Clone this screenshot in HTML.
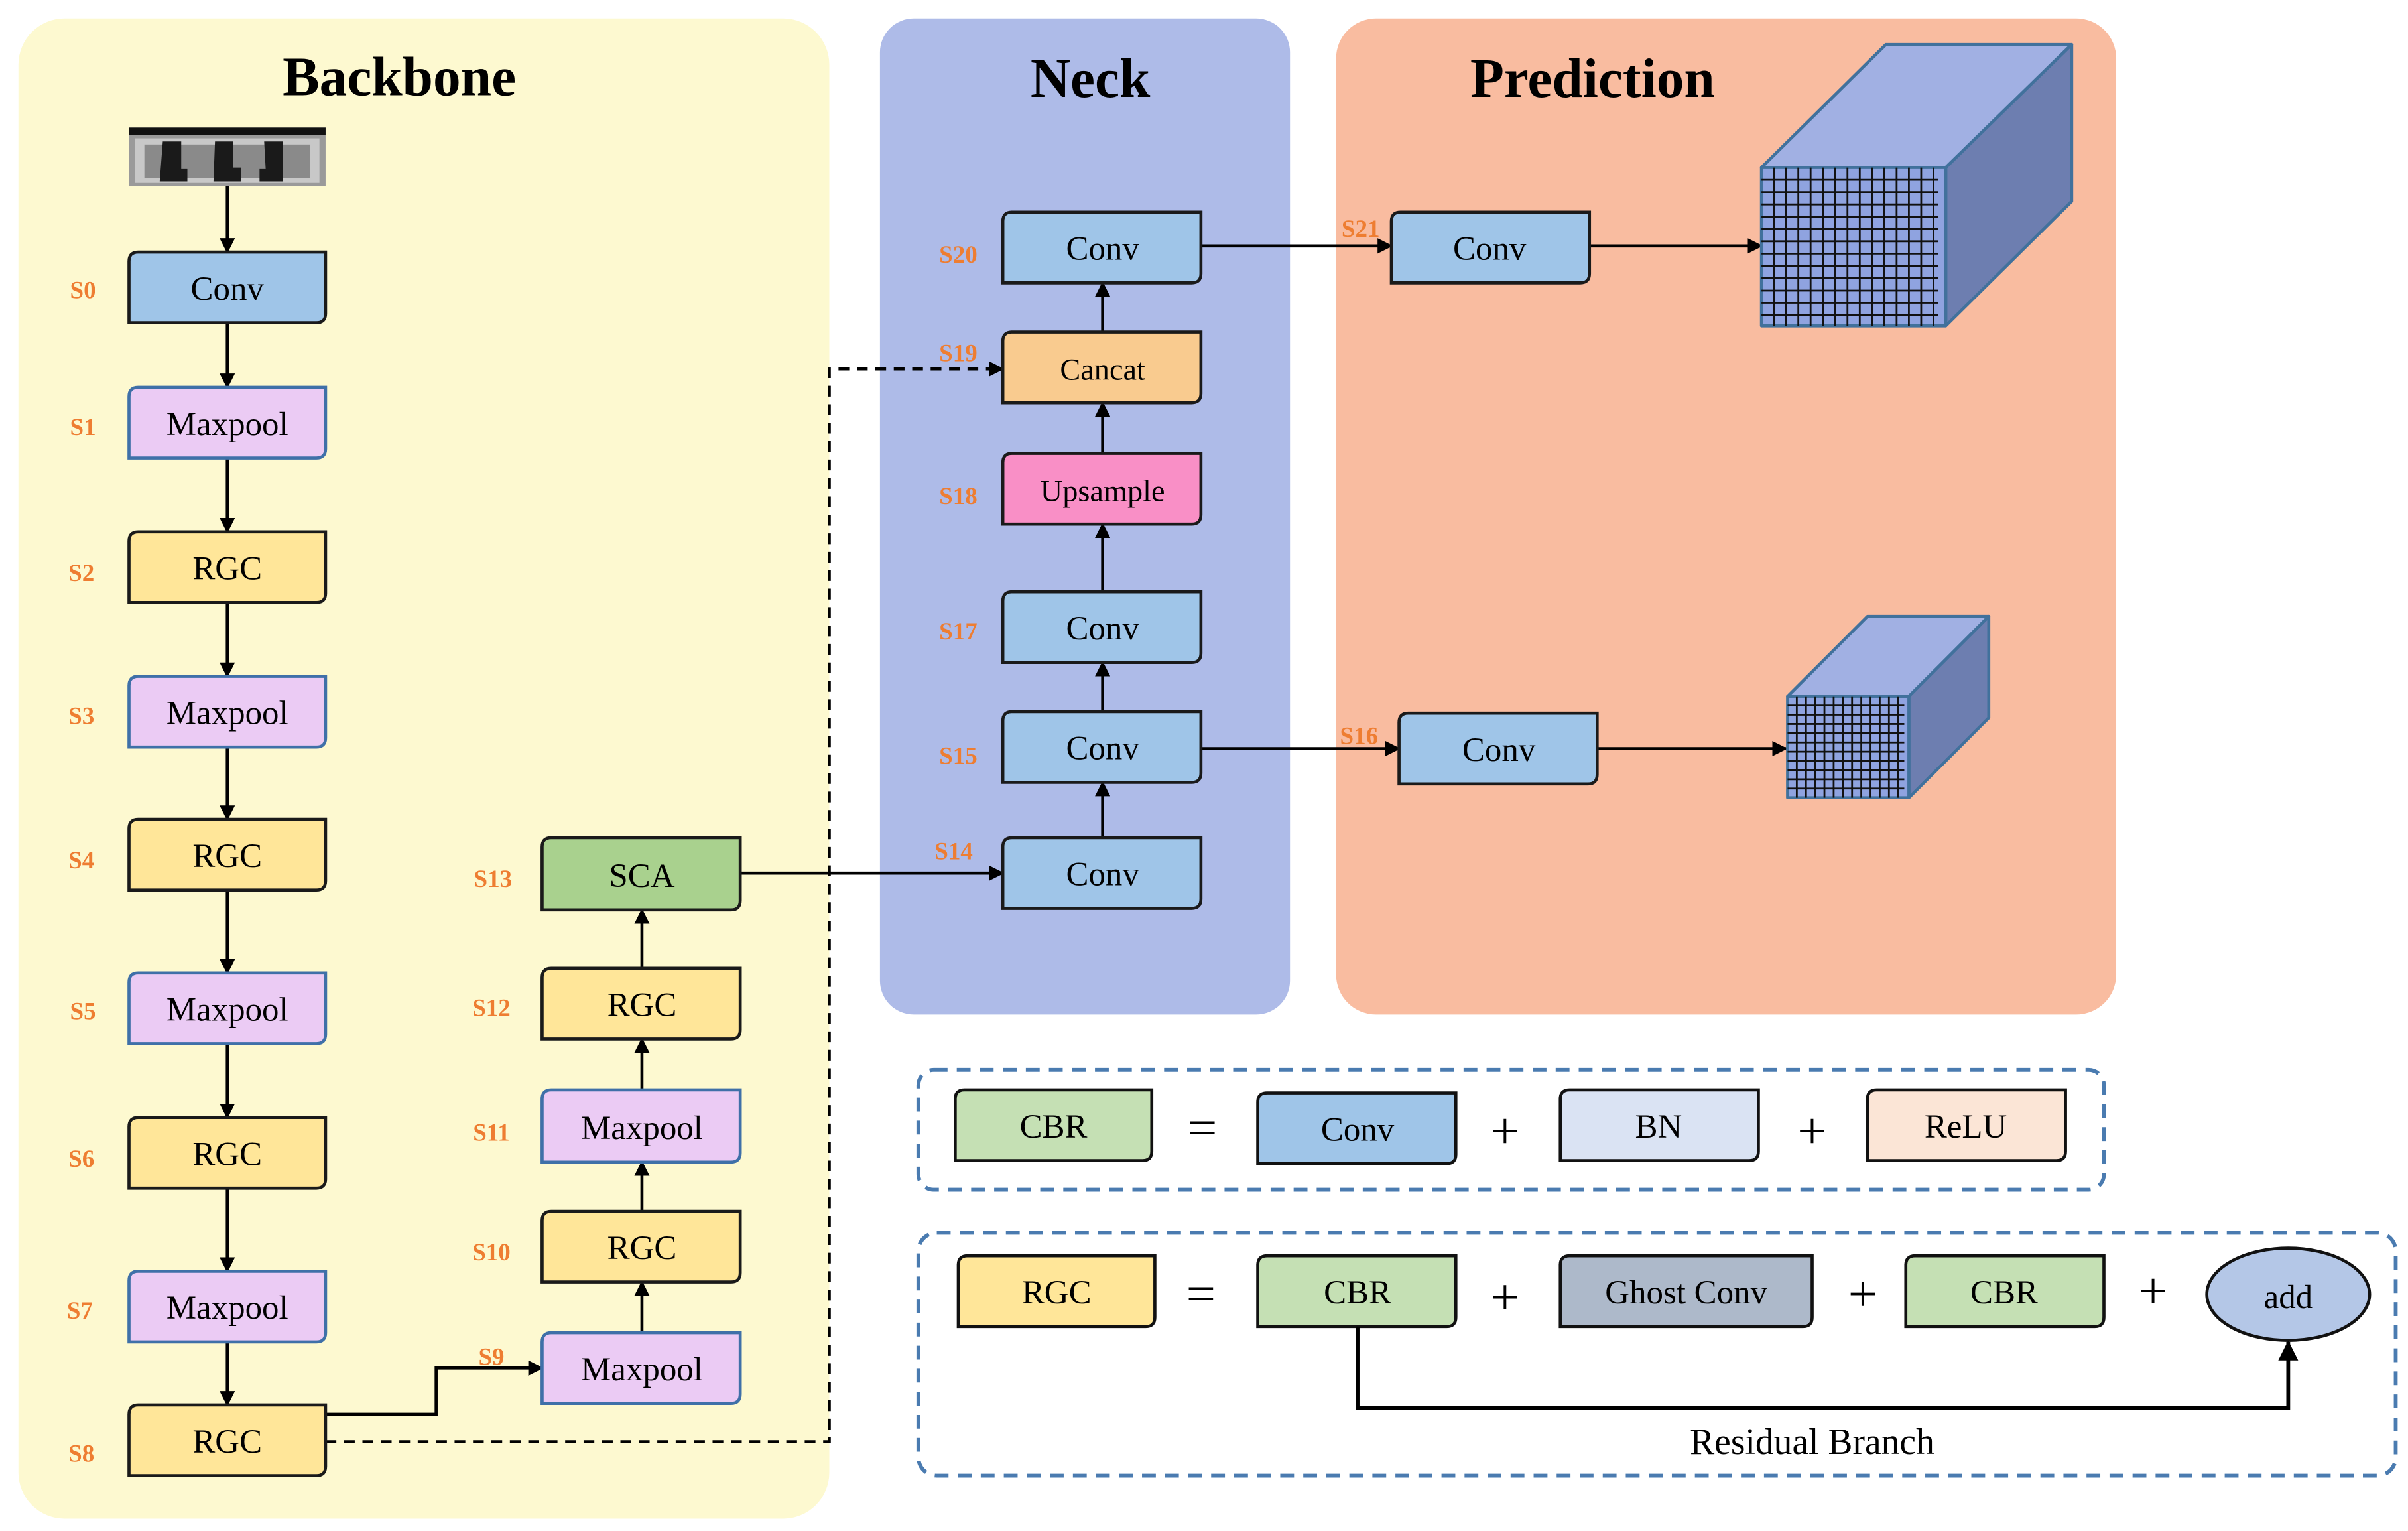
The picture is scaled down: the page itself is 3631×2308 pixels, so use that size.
<!DOCTYPE html>
<html><head><meta charset="utf-8"><style>html,body{margin:0;padding:0;background:#fff}svg{display:block}</style></head>
<body>
<svg width="3631" height="2308" viewBox="0 0 1568 996" preserveAspectRatio="none" xmlns="http://www.w3.org/2000/svg" font-family="'Liberation Serif', serif">
<defs>
<marker id="ar" markerWidth="10" markerHeight="10" refX="9" refY="5" orient="auto" markerUnits="userSpaceOnUse"><path d="M0,0 L10,5 L0,10 Z" fill="#000"/></marker>
<marker id="ar2" markerWidth="13" markerHeight="13" refX="12" refY="6.5" orient="auto" markerUnits="userSpaceOnUse"><path d="M0,0 L13,6.5 L0,13 Z" fill="#000"/></marker>
</defs>
<rect x="12" y="12" width="528" height="976" rx="30" fill="#fdf9d0"/>
<rect x="573" y="12" width="267" height="648" rx="22" fill="#aebbe8"/>
<rect x="870" y="12" width="508" height="648" rx="26" fill="#f9bca0"/>
<g font-weight="bold" font-size="36" text-anchor="middle" fill="#000">
<text x="260" y="62">Backbone</text>
<text x="710" y="63">Neck</text>
<text x="1037" y="63">Prediction</text>
</g>
<rect x="84" y="83" width="128" height="38" fill="#9a9a9a"/>
<rect x="84" y="83" width="128" height="5" fill="#111"/>
<rect x="88" y="90" width="120" height="29" fill="#c8c8c8"/>
<rect x="94" y="94" width="108" height="22" fill="#8a8a8a"/>
<g fill="#1a1a1a">
<path d="M106,92 h12 v18 h4 v8 h-18 z"/><path d="M140,92 h12 v17 h5 v9 h-18 z"/><path d="M172,92 h12 v26 h-15 v-8 h4 z"/>
</g>
<g stroke="#000" stroke-width="2" fill="none">
<line x1="148" y1="121" x2="148" y2="164" marker-end="url(#ar)"/>
<line x1="148" y1="210" x2="148" y2="252" marker-end="url(#ar)"/>
<line x1="148" y1="298" x2="148" y2="346" marker-end="url(#ar)"/>
<line x1="148" y1="392" x2="148" y2="440" marker-end="url(#ar)"/>
<line x1="148" y1="486" x2="148" y2="533" marker-end="url(#ar)"/>
<line x1="148" y1="579" x2="148" y2="633" marker-end="url(#ar)"/>
<line x1="148" y1="679" x2="148" y2="727" marker-end="url(#ar)"/>
<line x1="148" y1="773" x2="148" y2="827" marker-end="url(#ar)"/>
<line x1="148" y1="873" x2="148" y2="914" marker-end="url(#ar)"/>
<polyline points="212,920 284,920 284,890 353,890" marker-end="url(#ar)"/>
<line x1="418" y1="867" x2="418" y2="834" marker-end="url(#ar)"/>
<line x1="418" y1="788" x2="418" y2="756" marker-end="url(#ar)"/>
<line x1="418" y1="709" x2="418" y2="676" marker-end="url(#ar)"/>
<line x1="418" y1="630" x2="418" y2="592" marker-end="url(#ar)"/>
<line x1="482" y1="568" x2="653" y2="568" marker-end="url(#ar)"/>
<polyline points="212,938 540,938 540,240 653,240" stroke-dasharray="7,5" marker-end="url(#ar)"/>
<line x1="718" y1="545" x2="718" y2="509" marker-end="url(#ar)"/>
<line x1="718" y1="463" x2="718" y2="431" marker-end="url(#ar)"/>
<line x1="718" y1="385" x2="718" y2="341" marker-end="url(#ar)"/>
<line x1="718" y1="295" x2="718" y2="262" marker-end="url(#ar)"/>
<line x1="718" y1="216" x2="718" y2="184" marker-end="url(#ar)"/>
<line x1="782" y1="160" x2="906" y2="160" marker-end="url(#ar)"/>
<line x1="1035" y1="160" x2="1147" y2="160" marker-end="url(#ar)"/>
<line x1="782" y1="487" x2="911" y2="487" marker-end="url(#ar)"/>
<line x1="1040" y1="487" x2="1163" y2="487" marker-end="url(#ar)"/>
</g>
<g stroke-width="2">
<g stroke="#1a1a1a">
<path d="M90,164 H212 V204 Q212,210 206,210 H84 V170 Q84,164 90,164Z" fill="#9fc5e8"/>
<path d="M90,346 H212 V386 Q212,392 206,392 H84 V352 Q84,346 90,346Z" fill="#ffe699"/>
<path d="M90,533 H212 V573 Q212,579 206,579 H84 V539 Q84,533 90,533Z" fill="#ffe699"/>
<path d="M90,727 H212 V767 Q212,773 206,773 H84 V733 Q84,727 90,727Z" fill="#ffe699"/>
<path d="M90,914 H212 V954 Q212,960 206,960 H84 V920 Q84,914 90,914Z" fill="#ffe699"/>
<path d="M359,545 H482 V586 Q482,592 476,592 H353 V551 Q353,545 359,545Z" fill="#a9d18e"/>
<path d="M359,630 H482 V670 Q482,676 476,676 H353 V636 Q353,630 359,630Z" fill="#ffe699"/>
<path d="M359,788 H482 V828 Q482,834 476,834 H353 V794 Q353,788 359,788Z" fill="#ffe699"/>
<path d="M659,545 H782 V585 Q782,591 776,591 H653 V551 Q653,545 659,545Z" fill="#9fc5e8"/>
<path d="M659,463 H782 V503 Q782,509 776,509 H653 V469 Q653,463 659,463Z" fill="#9fc5e8"/>
<path d="M659,385 H782 V425 Q782,431 776,431 H653 V391 Q653,385 659,385Z" fill="#9fc5e8"/>
<path d="M659,295 H782 V335 Q782,341 776,341 H653 V301 Q653,295 659,295Z" fill="#f98fc6"/>
<path d="M659,216 H782 V256 Q782,262 776,262 H653 V222 Q653,216 659,216Z" fill="#f9cb8f"/>
<path d="M659,138 H782 V178 Q782,184 776,184 H653 V144 Q653,138 659,138Z" fill="#9fc5e8"/>
<path d="M912,138 H1035 V178 Q1035,184 1029,184 H906 V144 Q906,138 912,138Z" fill="#9fc5e8"/>
<path d="M917,464 H1040 V504 Q1040,510 1034,510 H911 V470 Q911,464 917,464Z" fill="#9fc5e8"/>
</g>
<g stroke="#3f70a8">
<path d="M90,252 H212 V292 Q212,298 206,298 H84 V258 Q84,252 90,252Z" fill="#ebcbf4"/>
<path d="M90,440 H212 V480 Q212,486 206,486 H84 V446 Q84,440 90,440Z" fill="#ebcbf4"/>
<path d="M90,633 H212 V673 Q212,679 206,679 H84 V639 Q84,633 90,633Z" fill="#ebcbf4"/>
<path d="M90,827 H212 V867 Q212,873 206,873 H84 V833 Q84,827 90,827Z" fill="#ebcbf4"/>
<path d="M359,709 H482 V750 Q482,756 476,756 H353 V715 Q353,709 359,709Z" fill="#ebcbf4"/>
<path d="M359,867 H482 V907 Q482,913 476,913 H353 V873 Q353,867 359,867Z" fill="#ebcbf4"/>
</g>
</g>
<g font-size="22" text-anchor="middle" fill="#000">
<text x="148" y="195">Conv</text>
<text x="148" y="283">Maxpool</text>
<text x="148" y="377">RGC</text>
<text x="148" y="471">Maxpool</text>
<text x="148" y="564">RGC</text>
<text x="148" y="664">Maxpool</text>
<text x="148" y="758">RGC</text>
<text x="148" y="858">Maxpool</text>
<text x="148" y="945">RGC</text>
<text x="418" y="577">SCA</text>
<text x="418" y="661">RGC</text>
<text x="418" y="741">Maxpool</text>
<text x="418" y="819">RGC</text>
<text x="418" y="898">Maxpool</text>
<text x="718" y="576">Conv</text>
<text x="718" y="494">Conv</text>
<text x="718" y="416">Conv</text>
<text x="718" y="326" font-size="20">Upsample</text>
<text x="718" y="247" font-size="20">Cancat</text>
<text x="718" y="169">Conv</text>
<text x="970" y="169">Conv</text>
<text x="976" y="495">Conv</text>
</g>
<g font-size="16" font-weight="bold" fill="#ee7d31" text-anchor="middle">
<text x="54" y="194">S0</text><text x="54" y="283">S1</text><text x="53" y="378">S2</text><text x="53" y="471">S3</text>
<text x="53" y="565">S4</text><text x="54" y="663">S5</text><text x="53" y="759">S6</text><text x="52" y="858">S7</text><text x="53" y="951">S8</text>
<text x="320" y="888">S9</text><text x="320" y="820">S10</text><text x="320" y="742">S11</text><text x="320" y="661">S12</text><text x="321" y="577">S13</text>
<text x="621" y="559">S14</text><text x="624" y="497">S15</text><text x="885" y="484">S16</text><text x="624" y="416">S17</text><text x="624" y="328">S18</text>
<text x="624" y="235">S19</text><text x="624" y="171">S20</text><text x="886" y="154">S21</text>
</g>
<g stroke="#41719c" stroke-width="2" stroke-linejoin="round">
<polygon points="1147,109 1228,29 1349,29 1267,109" fill="#a1b0e3"/>
<polygon points="1267,109 1349,29 1349,131 1267,212" fill="#6d7eb0"/>
<rect x="1147" y="109" width="120" height="103" fill="#8fa3e0"/>
<polygon points="1164,453 1216,401 1295,401 1243,453" fill="#a1b0e3"/>
<polygon points="1243,453 1295,401 1295,467 1243,519" fill="#6d7eb0"/>
<rect x="1164" y="453" width="79" height="66" fill="#8fa3e0"/>
</g>
<g stroke="#111" stroke-width="1.2">
<path d="M1155,109V212M1163,109V212M1171,109V212M1179,109V212M1187,109V212M1195,109V212M1203,109V212M1211,109V212M1219,109V212M1227,109V212M1235,109V212M1243,109V212M1251,109V212M1259,109V212"/>
<path d="M1147,117H1262M1147,125H1262M1147,133H1262M1147,141H1262M1147,149H1262M1147,157H1262M1147,165H1262M1147,173H1262M1147,181H1262M1147,189H1262M1147,197H1262M1147,205H1262"/>
<path d="M1170,453V519M1176,453V519M1182,453V519M1188,453V519M1194,453V519M1200,453V519M1206,453V519M1212,453V519M1218,453V519M1224,453V519M1230,453V519M1236,453V519"/>
<path d="M1164,459H1240M1164,465H1240M1164,471H1240M1164,477H1240M1164,483H1240M1164,489H1240M1164,495H1240M1164,501H1240M1164,507H1240M1164,513H1240"/>
</g>
<g fill="none" stroke="#4a7bb0" stroke-width="2.5" stroke-dasharray="9,6">
<rect x="598" y="696" width="772" height="78" rx="10"/>
<rect x="598" y="802" width="962" height="158" rx="12"/>
</g>
<g stroke="#111" stroke-width="2">
<path d="M628,709 H750 V749 Q750,755 744,755 H622 V715 Q622,709 628,709Z" fill="#c5e0b4"/>
<path d="M825,711 H948 V751 Q948,757 942,757 H819 V717 Q819,711 825,711Z" fill="#9fc5e8"/>
<path d="M1022,709 H1145 V749 Q1145,755 1139,755 H1016 V715 Q1016,709 1022,709Z" fill="#dae3f3"/>
<path d="M1222,709 H1345 V749 Q1345,755 1339,755 H1216 V715 Q1216,709 1222,709Z" fill="#fbe5d6"/>
<path d="M630,817 H752 V857 Q752,863 746,863 H624 V823 Q624,817 630,817Z" fill="#ffe699"/>
<path d="M825,817 H948 V857 Q948,863 942,863 H819 V823 Q819,817 825,817Z" fill="#c5e0b4"/>
<path d="M1022,817 H1180 V857 Q1180,863 1174,863 H1016 V823 Q1016,817 1022,817Z" fill="#adb9ca"/>
<path d="M1247,817 H1370 V857 Q1370,863 1364,863 H1241 V823 Q1241,817 1247,817Z" fill="#c5e0b4"/>
<ellipse cx="1490" cy="842" rx="53" ry="30" fill="#b4c7e7"/>
</g>
<polyline points="884,863 884,916 1490,916 1490,873" fill="none" stroke="#000" stroke-width="2.5" marker-end="url(#ar2)"/>
<g font-size="22" text-anchor="middle" fill="#000">
<text x="686" y="740">CBR</text><text x="884" y="742">Conv</text><text x="1080" y="740">BN</text><text x="1280" y="740">ReLU</text>
<text x="688" y="848">RGC</text><text x="884" y="848">CBR</text><text x="1098" y="848">Ghost Conv</text><text x="1305" y="848">CBR</text><text x="1490" y="851">add</text>
<text x="1180" y="946" font-size="24">Residual Branch</text>
</g>
<g font-size="34" text-anchor="middle" fill="#000">
<text x="783" y="745">=</text><text x="980" y="747">+</text><text x="1180" y="747">+</text>
<text x="782" y="853">=</text><text x="980" y="855">+</text><text x="1213" y="853">+</text><text x="1402" y="851">+</text>
</g>
</svg>
</body></html>
